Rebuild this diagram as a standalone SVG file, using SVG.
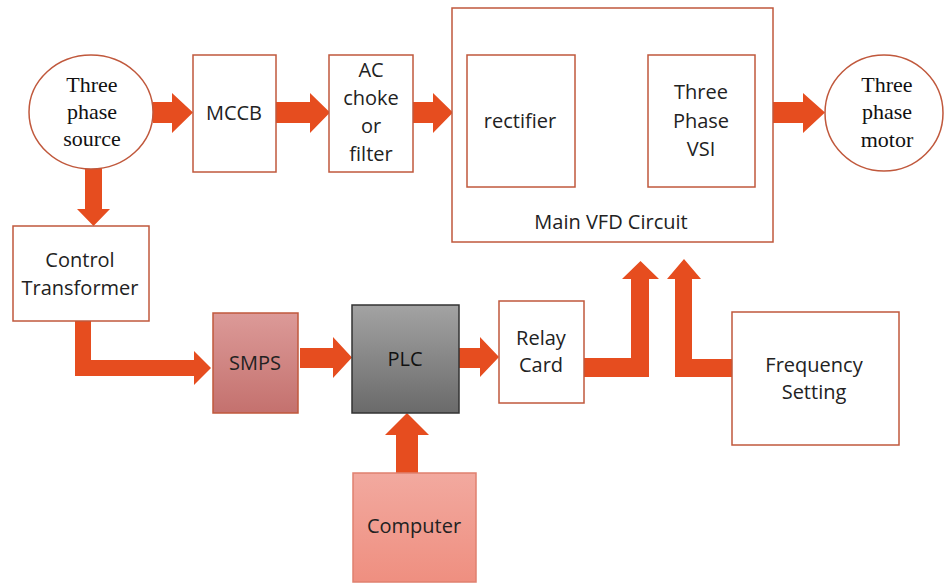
<svg xmlns="http://www.w3.org/2000/svg" width="944" height="583" viewBox="0 0 944 583">
<style>
.box{fill:#fff;stroke:#c0583c;stroke-width:1.5}
.arr{fill:#e64d1f}
.s{font-family:"Open Sans","Liberation Sans",sans-serif;font-size:20px;fill:#222;text-anchor:middle}
.r{font-family:"Liberation Serif","DejaVu Serif",serif;font-size:22px;fill:#111;text-anchor:middle}
.wire{stroke:#111;stroke-width:1.3;fill:none}
</style>
<defs>
<linearGradient id="gSmps" x1="0" y1="0" x2="0" y2="1"><stop offset="0" stop-color="#dc9a98"/><stop offset="1" stop-color="#c4716e"/></linearGradient>
<linearGradient id="gPlc" x1="0" y1="0" x2="0" y2="1"><stop offset="0" stop-color="#a3a3a3"/><stop offset="1" stop-color="#6a6a6a"/></linearGradient>
<linearGradient id="gComp" x1="0" y1="0" x2="0" y2="1"><stop offset="0" stop-color="#f2a99f"/><stop offset="1" stop-color="#ef8f80"/></linearGradient>
</defs>
<rect width="944" height="583" fill="#fff"/>
<g id="connectors">
<polygon class="arr" points="153,102 172,102 172,93 193,112.5 172,133 172,123 153,123"/>
<polygon class="arr" points="276,102 310,102 310,93 330,112.5 310,133 310,123 276,123"/>
<polygon class="arr" points="413,102 433,102 433,93 453,112.5 433,133 433,123 413,123"/>
<polygon class="arr" points="773,102 803,102 803,93 825,112.5 803,133 803,123 773,123"/>
<polygon class="arr" points="85,168 102,168 102,209 110,209 93.5,226 77,209 85,209"/>
<polygon class="arr" points="75,321 91,321 91,360 194,360 194,351 211,368 194,385 194,376 75,376"/>
<polygon class="arr" points="300,348 333,348 333,337 352,357.5 333,378 333,368 300,368"/>
<polygon class="arr" points="396,477 396,435 385,435 407,413 429,435 418,435 418,477"/>
<polygon class="arr" points="459,348 480,348 480,337 499,357 480,377 480,368 459,368"/>
<polygon class="arr" points="584,358 631,358 631,279 622,279 640.5,261 659,279 649,279 649,377 584,377"/>
<polygon class="arr" points="733,359 692,359 692,279 701,279 684,259 667,279 675,279 675,377 733,377"/>
<line class="wire" x1="575" y1="72" x2="648" y2="72"/>
<line class="wire" x1="575" y1="168" x2="648" y2="168"/>
</g>
<g id="source">
<ellipse class="box" cx="91" cy="112" rx="62" ry="57"/>
<text class="r" x="92" y="92">Three</text>
<text class="r" x="92" y="119">phase</text>
<text class="r" x="92" y="146">source</text>
</g>
<g id="mccb">
<rect class="box" x="193" y="55" width="83" height="117"/>
<text class="s" x="234" y="120">MCCB</text>
</g>
<g id="acchoke">
<rect class="box" x="329" y="55" width="84" height="117"/>
<text class="s" x="371" y="77">AC</text>
<text class="s" x="371" y="105">choke</text>
<text class="s" x="371" y="133">or</text>
<text class="s" x="371" y="161">filter</text>
</g>
<g id="vfd">
<rect class="box" x="452" y="8" width="321" height="234"/>
<text class="s" x="611" y="229">Main VFD Circuit</text>
</g>
<g id="rectifier">
<rect class="box" x="467" y="55" width="108" height="132"/>
<text class="s" x="520" y="128">rectifier</text>
</g>
<g id="vsi">
<rect class="box" x="648" y="55" width="107" height="132"/>
<text class="s" x="701" y="99">Three</text>
<text class="s" x="701" y="128">Phase</text>
<text class="s" x="701" y="156">VSI</text>
</g>
<g id="motor">
<ellipse class="box" cx="884" cy="113" rx="59" ry="58"/>
<text class="r" x="887" y="92">Three</text>
<text class="r" x="887" y="119">phase</text>
<text class="r" x="887" y="147">motor</text>
</g>
<g id="transformer">
<rect class="box" x="13" y="226" width="136" height="95"/>
<text class="s" x="80" y="267">Control</text>
<text class="s" x="80" y="295">Transformer</text>
</g>
<g id="smps">
<rect x="213" y="313" width="85" height="100" fill="url(#gSmps)" stroke="#c0583c" stroke-width="1.5"/>
<text class="s" x="255" y="370">SMPS</text>
</g>
<g id="plc">
<rect x="352" y="305" width="107" height="108" fill="url(#gPlc)" stroke="#333" stroke-width="1.5"/>
<text class="s" x="405" y="366" style="fill:#111">PLC</text>
</g>
<g id="computer">
<rect x="353" y="473" width="123" height="109" fill="url(#gComp)" stroke="#e0806f" stroke-width="1.5"/>
<text class="s" x="414" y="533">Computer</text>
</g>
<g id="relay">
<rect class="box" x="499" y="301" width="85" height="102"/>
<text class="s" x="541" y="345">Relay</text>
<text class="s" x="541" y="372">Card</text>
</g>
<g id="frequency">
<rect class="box" x="732" y="312" width="167" height="133"/>
<text class="s" x="814" y="372">Frequency</text>
<text class="s" x="814" y="399">Setting</text>
</g>
</svg>
